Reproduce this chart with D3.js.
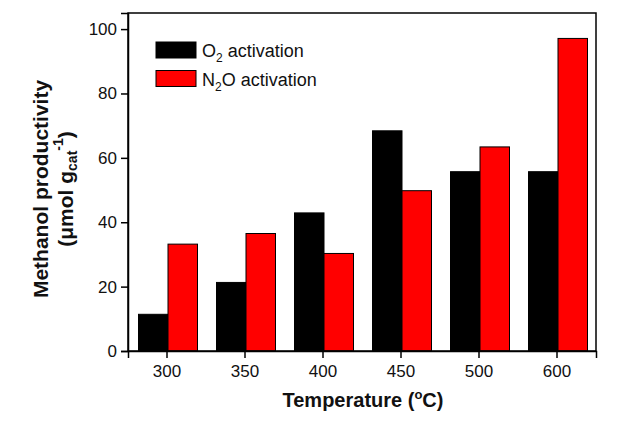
<!DOCTYPE html>
<html>
<head>
<meta charset="utf-8">
<script src="https://cdn.jsdelivr.net/npm/d3@7"></script>
<style>
  body { margin: 0; background: #fff; }
  svg { display: block; font-family: "Liberation Sans", Arial, sans-serif; }
</style>
</head>
<body>
<svg id="chart" width="636" height="423"></svg>
<script>
const categories = ["300", "350", "400", "450", "500", "600"];
const seriesNames = ["O2 activation", "N2O activation"];
const o2Values = [11.4, 21.3, 42.9, 68.4, 55.7, 55.7];
const n2oValues = [33.2, 36.5, 30.3, 49.8, 63.4, 97.1];
const yTicks = [0, 20, 40, 60, 80, 100];
const colors = ["#000000", "#ff0000"];

const svg = d3.select("#chart");
const m = { left: 128, right: 596, top: 13, bottom: 351 };

const x = d3.scaleBand().domain(categories).range([m.left, m.right]).padding(0);
const x1 = d3.scaleBand().domain(seriesNames).range([-28.5, 30.5]).padding(0);
const y = d3.scaleLinear().domain([0, 105]).range([m.bottom, m.top]);

const data = categories.map((c, i) => ({ cat: c, vals: [o2Values[i], n2oValues[i]] }));

// bars
const g = svg.append("g");
data.forEach(d => {
  seriesNames.forEach((s, j) => {
    const cx = x(d.cat) + x.bandwidth() / 2;
    g.append("rect")
      .attr("x", cx + x1(s))
      .attr("y", y(d.vals[j]))
      .attr("width", x1.bandwidth())
      .attr("height", y(0) - y(d.vals[j]))
      .attr("fill", colors[j])
      .attr("stroke", "#000")
      .attr("stroke-width", 1);
  });
});

// frame
svg.append("rect")
  .attr("x", m.left).attr("y", m.top)
  .attr("width", m.right - m.left).attr("height", m.bottom - m.top)
  .attr("fill", "none").attr("stroke", "#000").attr("stroke-width", 1.5);

// axes
const yAxis = svg.append("g")
  .attr("transform", `translate(${m.left},0)`)
  .call(d3.axisLeft(y).tickValues(yTicks).tickSize(7).tickPadding(4));
const xAxis = svg.append("g")
  .attr("transform", `translate(0,${m.bottom})`)
  .call(d3.axisBottom(x).tickSize(7).tickPadding(5));
[yAxis, xAxis].forEach(a => {
  a.select(".domain").attr("stroke-width", 1.5);
  a.selectAll(".tick line").attr("stroke-width", 1.5);
  a.selectAll("text").attr("font-size", 17).attr("fill", "#111")
    .attr("font-family", "Liberation Sans, Arial, sans-serif");
});
xAxis.selectAll("text").attr("dy", "0.85em");

// legend
const legend = svg.append("g");
const legendRows = [
  { main: "O", sub: "2", rest: " activation" },
  { main: "N", sub: "2", rest: "O activation" }
];
legendRows.forEach((r, i) => {
  const yy = 42 + i * 28.5;
  legend.append("rect")
    .attr("x", 156).attr("y", yy)
    .attr("width", 40).attr("height", 16)
    .attr("fill", colors[i]).attr("stroke", "#000").attr("stroke-width", 1);
  const t = legend.append("text")
    .attr("x", 202).attr("y", yy + 15)
    .attr("font-size", 18).attr("fill", "#111");
  t.append("tspan").text(r.main);
  t.append("tspan").attr("font-size", 12).attr("dy", 5).text(r.sub);
  t.append("tspan").attr("dy", -5).text(r.rest);
});

// y label
const yl = svg.append("text")
  .attr("transform", "translate(48,189) rotate(-90)")
  .attr("text-anchor", "middle")
  .attr("font-size", 21).attr("font-weight", "bold").attr("fill", "#111");
yl.append("tspan").attr("x", 0).attr("y", 0).text("Methanol productivity");
const yl2 = svg.append("text")
  .attr("transform", "translate(73,189) rotate(-90)")
  .attr("text-anchor", "middle")
  .attr("font-size", 21).attr("font-weight", "bold").attr("fill", "#111");
yl2.append("tspan").text("(μmol g");
yl2.append("tspan").attr("font-size", 14).attr("dy", 4).text("cat");
yl2.append("tspan").attr("font-size", 14).attr("dy", -14).text("-1");
yl2.append("tspan").attr("dy", 10).text(")");

// x label
const xl = svg.append("text")
  .attr("x", 363).attr("y", 407)
  .attr("text-anchor", "middle")
  .attr("font-size", 20).attr("font-weight", "bold").attr("fill", "#111");
xl.append("tspan").text("Temperature (");
xl.append("tspan").attr("font-size", 13).attr("dy", -8).text("o");
xl.append("tspan").attr("dy", 8).text("C)");
</script>
</body>
</html>
